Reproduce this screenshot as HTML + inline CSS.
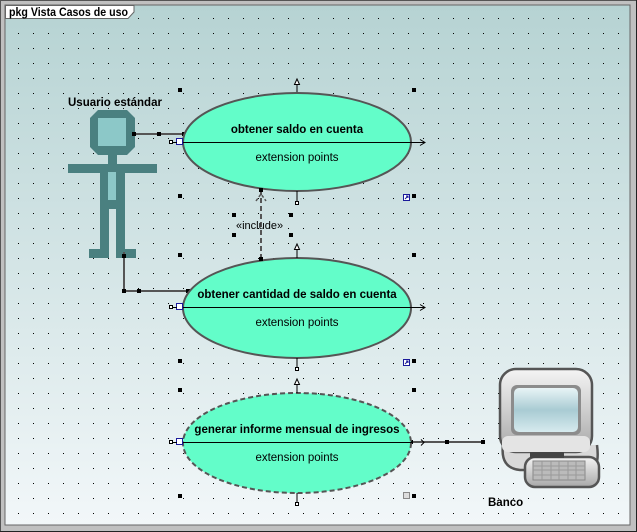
<!DOCTYPE html>
<html><head><meta charset="utf-8"><style>
html,body{margin:0;padding:0;width:637px;height:532px;overflow:hidden;background:#c0c0c0}
svg{display:block}
text{font-family:"Liberation Sans",sans-serif;font-size:11.5px;fill:#000}
</style></head><body>
<svg width="637" height="532" viewBox="0 0 637 532">
<defs>
<linearGradient id="bg" x1="0" y1="0" x2="0" y2="1">
<stop offset="0" stop-color="#b6d3d3"/><stop offset="1" stop-color="#f2f7f9"/>
</linearGradient>
<pattern id="dots" x="3" y="3" width="15" height="15" patternUnits="userSpaceOnUse">
<rect x="0" y="0" width="1" height="1" fill="#000"/>
</pattern>
<linearGradient id="scr" x1="0" y1="0" x2="0" y2="1">
<stop offset="0" stop-color="#e8f4f6"/><stop offset="0.5" stop-color="#a9cbd3"/><stop offset="1" stop-color="#d6eaee"/>
</linearGradient>
<linearGradient id="case" x1="0" y1="0" x2="0" y2="1">
<stop offset="0" stop-color="#f4f4f4"/><stop offset="1" stop-color="#a8a8a8"/>
</linearGradient>
</defs>
<rect x="0" y="0" width="637" height="532" fill="#c0c0c0"/>
<rect x="0" y="0" width="637" height="1" fill="#555"/>
<rect x="0" y="0" width="1" height="532" fill="#555"/>
<rect x="0" y="531" width="637" height="1" fill="#222"/>
<rect x="636" y="0" width="1" height="532" fill="#222"/>
<rect x="5" y="5" width="625" height="520" fill="url(#bg)" stroke="#666" stroke-width="1"/>
<rect x="5" y="5" width="625" height="520" fill="url(#dots)"/>
<!-- tab -->
<path d="M5.5 5.5 H134 V12 L128 18.5 H5.5 Z" fill="#fff" stroke="#666"/>
<text x="9" y="16" textLength="119" lengthAdjust="spacingAndGlyphs" style="font-size:12px;font-weight:bold">pkg Vista Casos de uso</text>

<!-- actor -->
<g fill="#4a8080">
<path d="M98 110 H127 L135 118 V147 L127 155 H98 L90 147 V118 Z"/>
<rect x="108" y="155" width="9" height="10"/>
<rect x="68" y="164" width="89" height="9"/>
<rect x="100" y="172" width="25" height="37"/>
<rect x="100" y="205" width="9" height="47"/>
<rect x="116" y="205" width="9" height="47"/>
<rect x="89" y="249" width="20" height="9"/>
<rect x="116" y="249" width="20" height="9"/>
</g>
<rect x="98" y="118" width="28" height="28" fill="#8cc8c8"/>
<rect x="108" y="172" width="8" height="28" fill="#8cc8c8"/>
<text x="68" y="106" style="font-weight:bold">Usuario estándar</text>

<!-- associations -->
<g stroke="#555" stroke-width="2" fill="none">
<path d="M134 134 H184"/>
<path d="M124 252 V291 H188"/>
<path d="M411 442 H483"/>
</g>
<g fill="#000">
<rect x="132" y="132" width="4" height="4"/><rect x="157" y="132" width="4" height="4"/><rect x="182" y="132" width="4" height="4"/>
<rect x="122" y="254" width="4" height="4"/><rect x="122" y="289" width="4" height="4"/><rect x="137" y="289" width="4" height="4"/><rect x="186" y="289" width="4" height="4"/>
<rect x="409" y="440" width="4" height="4"/><rect x="445" y="440" width="4" height="4"/><rect x="481" y="440" width="4" height="4"/>
</g>

<!-- ellipses -->
<ellipse cx="297" cy="142" rx="114" ry="49" fill="#63fdc9" stroke="#555" stroke-width="2"/>
<ellipse cx="297" cy="308" rx="114" ry="50" fill="#63fdc9" stroke="#555" stroke-width="2"/>
<ellipse cx="297" cy="443" rx="114" ry="50" fill="#63fdc9" stroke="#555" stroke-width="2" stroke-dasharray="5,3"/>
<g stroke="#000" stroke-width="1" fill="none">
<path d="M183 142.5 H425 M420 139.5 L425 142.5 L420 145.5"/>
<path d="M183 307.5 H425 M420 304.5 L425 307.5 L420 310.5"/>
<path d="M183 442.5 H411 M421 439.5 L424 442.5 L421 445.5"/>
</g>
<text x="297" y="133" text-anchor="middle" style="font-weight:bold">obtener saldo en cuenta</text>
<text x="297" y="161" text-anchor="middle">extension points</text>
<text x="297" y="298" text-anchor="middle" style="font-weight:bold">obtener cantidad de saldo en cuenta</text>
<text x="297" y="326" text-anchor="middle">extension points</text>
<text x="297" y="433" text-anchor="middle" style="font-weight:bold">generar informe mensual de ingresos</text>
<text x="297" y="461" text-anchor="middle">extension points</text>

<!-- include -->
<path d="M261 190 V259" stroke="#555" stroke-width="2" stroke-dasharray="5,3" fill="none"/>
<path d="M256 201 L261 194 L266 201" stroke="#555" stroke-width="1.5" fill="none" stroke-dasharray="3,2"/>
<rect x="259" y="188" width="4" height="4"/><rect x="259" y="257" width="4" height="4"/>
<text x="236" y="229" style="font-size:11px">«include»</text>

<!-- side handles -->
<g stroke="#000" fill="#fff">
<rect x="169.5" y="140.5" width="3" height="3"/><rect x="169.5" y="305.5" width="3" height="3"/><rect x="169.5" y="440.5" width="3" height="3"/>
</g>
<g stroke="#1a1a9a" fill="#fff">
<rect x="176.5" y="138.5" width="6" height="6"/><rect x="176.5" y="303.5" width="6" height="6"/><rect x="176.5" y="438.5" width="6" height="6"/>
</g>
<g stroke="#000"><path d="M172 142.5H177M172 307.5H177M172 442.5H177"/></g>
<!-- top/bottom handles -->
<g stroke="#000" fill="#fff">
<path d="M297 92 V84 M297 258 V249 M297 393 V384 M297 191 V201 M297 358 V367 M297 493 V502"/>
<path d="M294.5 84.5 L297 79 L299.5 84.5 Z M294.5 249.5 L297 244 L299.5 249.5 Z M294.5 384.5 L297 379 L299.5 384.5 Z"/>
<rect x="295.5" y="201.5" width="3" height="3"/><rect x="295.5" y="367.5" width="3" height="3"/><rect x="295.5" y="502.5" width="3" height="3"/>
</g>
<!-- selection squares -->
<g fill="#000">
<rect x="178" y="88" width="4" height="4"/><rect x="412" y="88" width="4" height="4"/>
<rect x="178" y="194" width="4" height="4"/><rect x="412" y="194" width="4" height="4"/>
<rect x="178" y="253" width="4" height="4"/><rect x="412" y="253" width="4" height="4"/>
<rect x="178" y="359" width="4" height="4"/><rect x="412" y="359" width="4" height="4"/>
<rect x="178" y="388" width="4" height="4"/><rect x="412" y="388" width="4" height="4"/>
<rect x="178" y="494" width="4" height="4"/><rect x="412" y="494" width="4" height="4"/>
<rect x="232" y="213" width="4" height="4"/><rect x="289" y="213" width="4" height="4"/>
<rect x="232" y="233" width="4" height="4"/><rect x="289" y="233" width="4" height="4"/>
</g>
<g stroke="#1a1a9a" fill="#fff">
<rect x="403.5" y="194.5" width="6" height="6"/><rect x="403.5" y="359.5" width="6" height="6"/>
</g>
<path d="M405 199 L408 196 M406 196H408V198" stroke="#1a1a9a"/>
<path d="M405 364 L408 361 M406 361H408V363" stroke="#1a1a9a"/>
<rect x="403.5" y="492.5" width="6" height="6" fill="#ddd" stroke="#888"/>

<!-- computer -->
<g>
<path d="M503 445 Q500 468 520 470 H590 Q600 468 597 445" fill="#d8d8d8" stroke="#555" stroke-width="2.5"/>
<rect x="500" y="369" width="92" height="83" rx="16" fill="url(#case)" stroke="#555" stroke-width="2.5"/>
<rect x="511" y="385" width="70" height="50" rx="6" fill="#8c8c8c"/>
<rect x="514" y="388" width="64" height="44" rx="5" fill="url(#scr)"/>
<rect x="502" y="436" width="88" height="16" rx="6" fill="#e4e4e4"/>
<rect x="525" y="457" width="74" height="30" rx="10" fill="url(#case)" stroke="#555" stroke-width="2.5"/>
<rect x="530" y="452" width="34" height="6" fill="#444"/>
<rect x="533" y="461" width="52" height="19" fill="#bbb" stroke="#888"/>
<path d="M533 466H585M533 470H585M533 475H585M542 461V480M551 461V480M559 461V480M568 461V480M576 461V480" stroke="#999"/>
</g>
<text x="488" y="506" style="font-weight:bold">Banco</text>
</svg>
</body></html>
